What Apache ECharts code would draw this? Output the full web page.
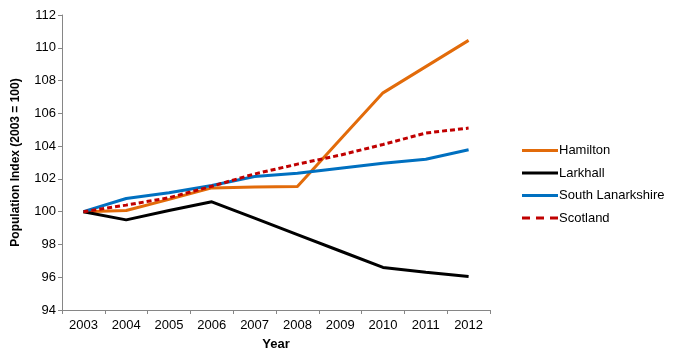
<!DOCTYPE html>
<html>
<head>
<meta charset="utf-8">
<script src="https://cdn.jsdelivr.net/npm/echarts@6/dist/echarts.min.js"></script>
<style>html,body{margin:0;padding:0;background:#fff}#c{width:676px;height:358px}</style>
</head>
<body>
<div id="c"></div>
<script>
const years = ['2003','2004','2005','2006','2007','2008','2009','2010','2011','2012'];
const hamilton = [100, 100.07, 100.75, 101.45, 101.5, 101.54, 104.4, 107.25, 108.85, 110.45];
const larkhall = [100, 99.5, 100.07, 100.6, 99.6, 98.6, 97.6, 96.6, 96.3, 96.04];
const southLanarkshire = [100, 100.8, 101.15, 101.6, 102.15, 102.35, 102.65, 102.95, 103.2, 103.78];
const scotland = [100, 100.4, 100.85, 101.55, 102.3, 102.9, 103.45, 104.1, 104.8, 105.1];
const seriesNames = ['Hamilton','Larkhall','South Lanarkshire','Scotland'];
const colors = ['#E26B0A','#000000','#0070C0','#C00000'];

const chart = echarts.init(document.getElementById('c'));
const font = 'Liberation Sans, Arial, sans-serif';
const solidIcon = 'path://M0,6 L36,6 L36,9 L0,9 Z';
const dashIcon = 'path://M0,6 L8,6 L8,9 L0,9 Z M14,6 L22,6 L22,9 L14,9 Z M28,6 L36,6 L36,9 L28,9 Z';
function mk(name, data, color, dashed) {
  return {
    name: name, type: 'line', data: data, symbol: 'none', smooth: false,
    lineStyle: {color: color, width: 3, type: dashed ? [5, 3] : 'solid'},
    itemStyle: {color: color}
  };
}
chart.setOption({
  animation: false,
  grid: {left: 62, right: 186, top: 15, bottom: 48},
  legend: {
    orient: 'vertical', left: 517, top: 139, itemGap: 9.5,
    itemWidth: 36, itemHeight: 14,
    data: seriesNames.map((n, i) => ({name: n, icon: i === 3 ? dashIcon : solidIcon})),
    textStyle: {fontFamily: font, fontSize: 13, color: '#000', padding: [0,0,0,-4]}
  },
  xAxis: {
    type: 'category', data: years, boundaryGap: true,
    name: 'Year', nameLocation: 'middle', nameGap: 28,
    nameTextStyle: {fontFamily: font, fontSize: 13, fontWeight: 'bold', color: '#000'},
    axisLine: {lineStyle: {color: '#868686', width: 1}},
    axisTick: {show: true, length: 4, lineStyle: {color: '#868686'}},
    axisLabel: {fontFamily: font, fontSize: 13, color: '#000', margin: 9}
  },
  yAxis: {
    type: 'value', min: 94, max: 112, interval: 2,
    name: 'Population Index (2003 = 100)', nameLocation: 'middle', nameGap: 40,
    nameTextStyle: {fontFamily: font, fontSize: 12, fontWeight: 'bold', color: '#000'},
    axisLine: {show: true, lineStyle: {color: '#868686', width: 1}},
    axisTick: {show: true, length: 4, lineStyle: {color: '#868686'}},
    splitLine: {show: false},
    axisLabel: {fontFamily: font, fontSize: 13, color: '#000', margin: 6}
  },
  series: [
    mk(seriesNames[0], hamilton, colors[0], false),
    mk(seriesNames[1], larkhall, colors[1], false),
    mk(seriesNames[2], southLanarkshire, colors[2], false),
    mk(seriesNames[3], scotland, colors[3], true)
  ]
});
</script>
</body>
</html>
